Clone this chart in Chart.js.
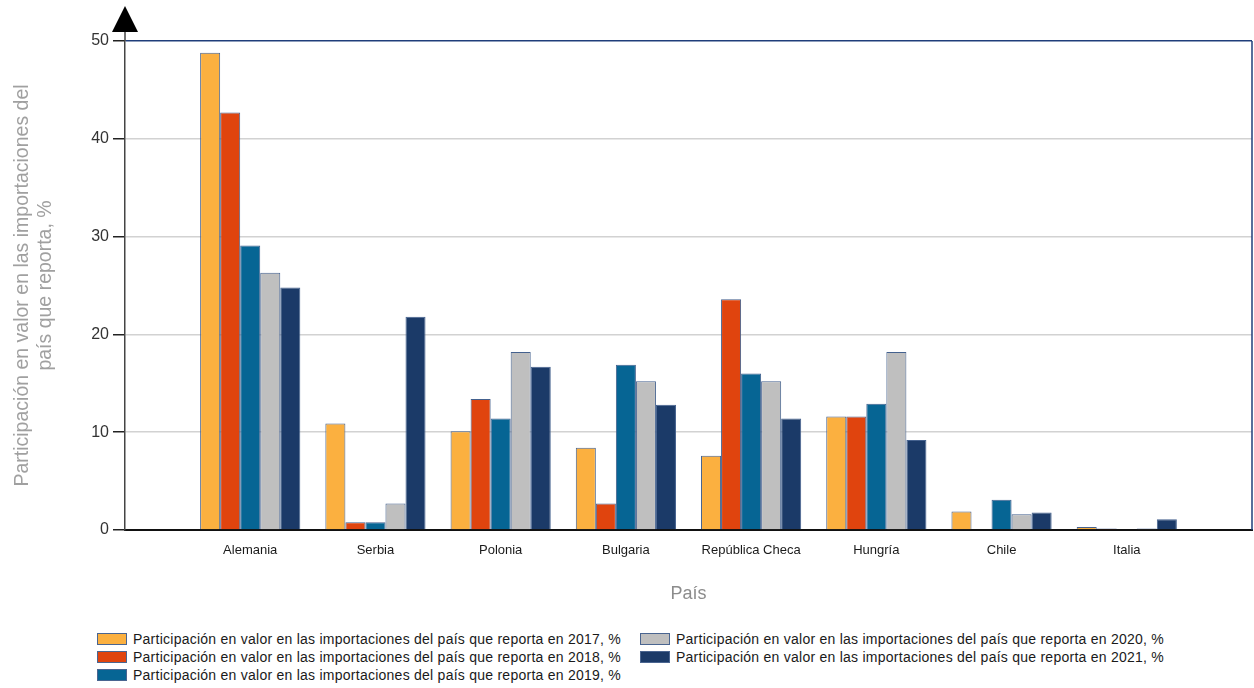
<!DOCTYPE html>
<html>
<head>
<meta charset="utf-8">
<script src="https://cdn.jsdelivr.net/npm/chart.js@4/dist/chart.umd.min.js"></script>
<style>
  body { margin: 0; background: #fff; width: 1254px; height: 688px; position: relative; overflow: hidden;
         font-family: "Liberation Sans", Arial, sans-serif; }
  #wrap { position: absolute; left: 0; top: 0; }
  #legend { position: absolute; left: 0; top: 0; font-size: 14px; letter-spacing: 0.25px; color: #1a1a1a; }
  .item { position: absolute; display: flex; align-items: center; white-space: nowrap; height: 14px; }
  .sw { width: 30px; height: 12px; border: 1px solid #4a6590; margin-right: 6px; box-sizing: border-box; }
</style>
</head>
<body>
<div id="wrap"><canvas id="c" width="1254" height="615"></canvas></div>
<div id="legend"></div>
<script>
const countries = ['Alemania', 'Serbia', 'Polonia', 'Bulgaria', 'República Checa', 'Hungría', 'Chile', 'Italia'];
const years = ['2017', '2018', '2019', '2020', '2021'];
const share2017 = [48.8, 10.9, 10.1, 8.4, 7.6, 11.6, 1.9, 0.3];
const share2018 = [42.7, 0.8, 13.4, 2.7, 23.6, 11.6, null, 0.15];
const share2019 = [29.1, 0.8, 11.4, 16.9, 16.0, 12.9, 3.1, null];
const share2020 = [26.3, 2.7, 18.2, 15.2, 15.2, 18.2, 1.6, 0.15];
const share2021 = [24.8, 21.8, 16.7, 12.8, 11.4, 9.2, 1.8, 1.1];
const colors = ['#fbb040', '#e0440e', '#066594', '#bfbfbf', '#1b3a68'];
const yMax = 50, yStep = 10;

const series = [share2017, share2018, share2019, share2020, share2021];
// blank slots at both ends give the wide side margins of the original
const labels = ['', ...countries, ''];

const datasets = series.map((vals, i) => ({
  label: 'Participación en valor en las importaciones del país que reporta en ' + years[i] + ', %',
  data: [null, ...vals, null],
  backgroundColor: colors[i],
  borderColor: '#44618e',
  borderWidth: 1,
  categoryPercentage: 0.8,
  barPercentage: 1.0
}));

const frame = {
  id: 'frame',
  afterDraw(chart) {
    const { ctx, chartArea: a } = chart;
    ctx.save();
    // right border
    ctx.strokeStyle = '#1f3e7a';
    ctx.lineWidth = 1.5;
    ctx.beginPath(); ctx.moveTo(a.right, a.top); ctx.lineTo(a.right, a.bottom); ctx.stroke();
    // axis stub up to the arrow
    ctx.strokeStyle = '#444';
    ctx.beginPath(); ctx.moveTo(a.left, 30); ctx.lineTo(a.left, a.top); ctx.stroke();
    // arrow head
    ctx.fillStyle = '#000';
    ctx.beginPath(); ctx.moveTo(a.left, 6); ctx.lineTo(a.left - 13, 32); ctx.lineTo(a.left + 13, 32); ctx.closePath(); ctx.fill();
    ctx.restore();
  }
};

const chart = new Chart(document.getElementById('c'), {
  type: 'bar',
  data: { labels, datasets },
  plugins: [frame],
  options: {
    responsive: false,
    animation: false,
    layout: { padding: { top: 41, right: 2, left: 0, bottom: 0 } },
    plugins: { legend: { display: false }, tooltip: { enabled: false } },
    scales: {
      x: {
        offset: false,
        grid: { display: false },
        border: { display: true, color: '#111', width: 2 },
        ticks: { color: '#1a1a1a', font: { size: 13 }, padding: 5, maxRotation: 0, autoSkip: false },
        title: { display: true, text: 'País', color: '#8c8c8c', font: { size: 18 }, padding: { top: 0, bottom: 10 } },
        afterFit: s => { s.height = 85; s.paddingLeft = 0; s.paddingRight = 0; }
      },
      y: {
        min: 0, max: yMax,
        ticks: { stepSize: yStep, color: '#333', font: { size: 16 }, padding: 4 },
        grid: {
          color: c => c.tick && c.tick.value === yMax ? '#1f3e7a' : '#d2d2d2',
          lineWidth: 1.5,
          tickColor: '#222', tickLength: 12, drawTicks: true
        },
        border: { display: true, color: '#444', width: 1.5 },
        title: {
          display: true,
          text: ['Participación en valor en las importaciones del', 'país que reporta, %'],
          color: '#a0a0a0', font: { size: 19.5, lineHeight: 1.18 }, padding: { top: 11 }
        },
        afterFit: s => { s.width = 125; s.paddingTop = 0; s.paddingBottom = 0; }
      }
    }
  }
});

// legend: three rows in the first column, two in the second
const legend = document.getElementById('legend');
const spots = [[97, 632], [97, 650], [97, 668], [640, 632], [640, 650]];
datasets.forEach((d, i) => {
  const el = document.createElement('div');
  el.className = 'item';
  el.style.left = spots[i][0] + 'px';
  el.style.top = spots[i][1] + 'px';
  el.innerHTML = `<span class="sw" style="background:${d.backgroundColor}"></span><span>${d.label}</span>`;
  legend.appendChild(el);
});
</script>
</body>
</html>
